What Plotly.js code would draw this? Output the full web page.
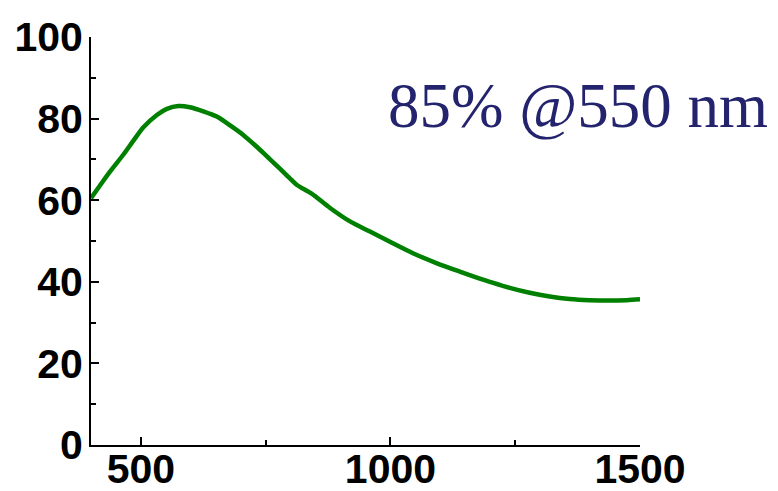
<!DOCTYPE html>
<html>
<head>
<meta charset="utf-8">
<script src="https://cdn.plot.ly/plotly-3.0.1.min.js"></script>
<style>html,body{margin:0;padding:0;background:#fff;}#chart{width:778px;height:491px;}</style>
</head>
<body>
<div id="chart"></div>
<script>
const wavelength = [400, 418, 438, 465, 485, 505, 532, 552, 575, 598, 625, 652, 678, 705, 732, 752, 778, 798, 812, 842, 879, 919, 959, 999, 1045, 1092, 1139, 1179, 1199, 1239, 1279, 1319, 1359, 1399, 1439, 1473, 1500];
const transmittance = [60.5, 63.6, 67.0, 71.2, 74.6, 77.9, 80.9, 82.4, 83.1, 82.8, 81.8, 80.5, 78.4, 76.0, 73.1, 70.8, 67.8, 65.4, 63.8, 61.6, 58.1, 54.8, 52.3, 49.8, 47.0, 44.6, 42.5, 40.8, 40.0, 38.5, 37.3, 36.4, 35.8, 35.5, 35.4, 35.5, 35.7];
const xTickVals = [500, 1000, 1500];
const yTickVals = [0, 20, 40, 60, 80, 100];
const annotationText = "85% @550 nm";

const tickFont = {family: "Liberation Sans, Arial, sans-serif", size: 41, color: "#000", weight: 700};

Plotly.newPlot("chart", [{
  x: wavelength, y: transmittance, type: "scatter", mode: "lines",
  line: {color: "#008000", width: 4.5, shape: "spline", smoothing: 0.8},
  hoverinfo: "skip"
}], {
  width: 778, height: 491,
  margin: {l: 91, r: 138, t: 37, b: 46, pad: 0},
  paper_bgcolor: "#fff", plot_bgcolor: "#fff",
  showlegend: false,
  xaxis: {
    range: [400, 1500], tickvals: xTickVals, ticktext: xTickVals.map(String),
    showline: true, linecolor: "#000", linewidth: 2, mirror: false,
    ticks: "inside", ticklen: 8, tickwidth: 2, tickcolor: "#000",
    minor: {tickvals: [750, 1250], ticks: "inside", ticklen: 5, tickwidth: 2, tickcolor: "#000"},
    showgrid: false, zeroline: false, tickfont: tickFont, ticklabelstandoff: -13
  },
  yaxis: {
    range: [0, 100], tickvals: yTickVals, ticktext: yTickVals.map(String),
    showline: true, linecolor: "#000", linewidth: 2, mirror: false,
    ticks: "inside", ticklen: 8, tickwidth: 2, tickcolor: "#000",
    minor: {dtick: 10, tick0: 0, ticks: "inside", ticklen: 5, tickwidth: 2, tickcolor: "#000"},
    showgrid: false, zeroline: false, tickfont: tickFont, ticklabelstandoff: -2
  },
  annotations: [{
    xref: "paper", yref: "paper", x: 0.538, y: 0.83, xanchor: "left", yanchor: "middle",
    text: annotationText, showarrow: false,
    font: {family: "Liberation Serif, Times New Roman, serif", size: 63, color: "#24246e"}
  }]
}, {staticPlot: true});
</script>
</body>
</html>
